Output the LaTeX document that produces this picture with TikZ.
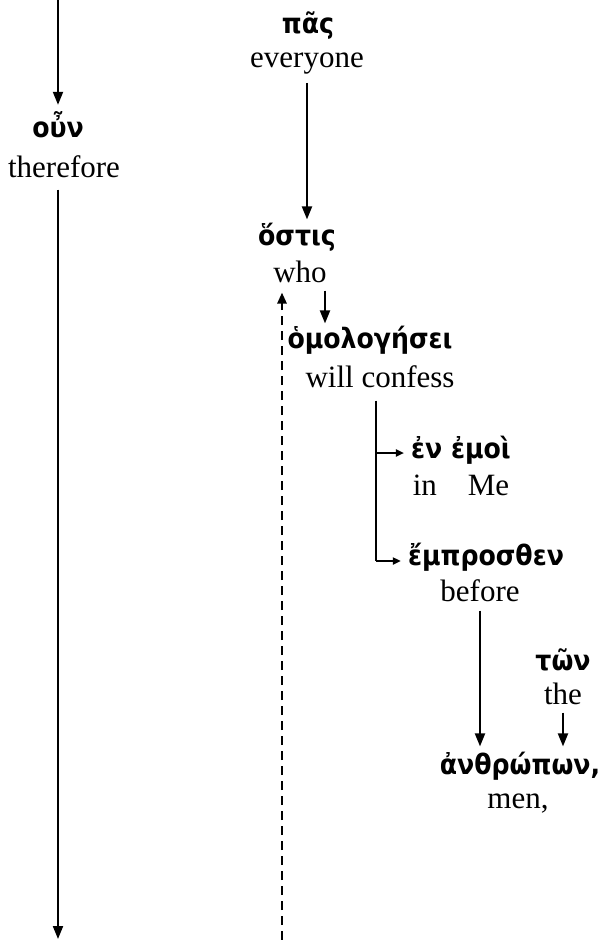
\documentclass[tikz,border=0pt]{standalone}
\usepackage{fontspec}
\setmainfont{Liberation Serif}
\newfontfamily\grk{DejaVu Sans Condensed}
\usetikzlibrary{arrows.meta}
\begin{document}
\begin{tikzpicture}[x=1pt,y=-1pt,
  gk/.style={font=\grk\bfseries\fontsize{28}{28}\selectfont, anchor=base, inner sep=0pt},
  en/.style={font=\fontsize{31}{31}\selectfont, anchor=base, inner sep=0pt},
  arr/.style={line width=2pt, -{Triangle[length=13pt,width=10pt]}},
  sarr/.style={line width=2pt, -{Triangle[length=8pt,width=7pt]}},
  darr/.style={line width=2.5pt, dash pattern=on 9pt off 6pt, -{Triangle[length=11pt,width=9pt]}}]
\useasboundingbox (0,0) rectangle (605,940);
\node[gk] (pas) at (308,33) {πᾶς};
\node[en] (everyone) at (307,67) {everyone};
\node[gk] (oun) at (58,137) {οὖν};
\node[en] (therefore) at (64,177) {therefore};
\node[gk] (ostis) at (297,245) {ὅστις};
\node[en] (who) at (300,282) {who};
\node[gk] (omol) at (370,348) {ὁμολογήσει};
\node[en] (confess) at (380,387) {will confess};
\node[gk] (enemoi) at (461,458) {ἐν ἐμοὶ};
\node[en] (inme) at (461,495) {in\quad Me};
\node[gk] (empr) at (486,565) {ἔμπροσθεν};
\node[en] (before) at (480,601) {before};
\node[gk] (ton) at (563,670) {τῶν};
\node[en] (the) at (563,704) {the};
\node[gk] (anth) at (520,774) {ἀνθρώπων,};
\node[en] (men) at (518,808) {men,};
\coordinate (topL) at (58,0);
\coordinate (botL) at (58,939);
\coordinate (botD) at (282,940);
\draw[arr] (topL) -- ([yshift=6pt]topL |- oun.north);
\draw[arr] ([yshift=-12pt]oun |- therefore.south) -- (botL);
\draw[arr] ([yshift=-9pt]everyone.south) -- ([yshift=3pt]everyone.south |- ostis.north);
\draw[darr] (botD) -- ([yshift=-10pt]botD |- who.south);
\draw[arr] ([xshift=25pt,yshift=-8pt]who.south) -- ([xshift=25pt,yshift=2pt]who.south |- omol.north);
\coordinate (vx) at ([xshift=-4pt,yshift=-13pt]confess.south);
\coordinate (ea) at ([xshift=-7pt,yshift=5pt]enemoi.base west);
\coordinate (ma) at ([xshift=-7pt,yshift=4pt]empr.base west);
\draw[line width=2pt] (vx) -- (vx |- ma);
\draw[sarr] (vx |- ea) -- (ea);
\draw[sarr] (vx |- ma) -- (ma);
\draw[arr] ([yshift=-9pt]before.south) -- ([yshift=5pt]before.south |- anth.north);
\draw[arr] ([yshift=-8pt]the.south) -- ([yshift=5pt]the.south |- anth.north);
\end{tikzpicture}
\end{document}
